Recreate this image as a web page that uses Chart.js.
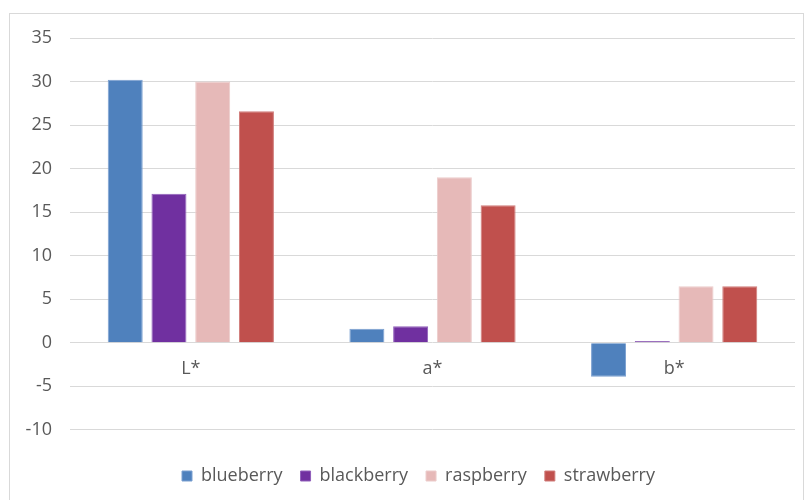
<!DOCTYPE html>
<html>
<head>
<meta charset="utf-8">
<script src="https://cdn.jsdelivr.net/npm/chart.js@4"></script>
<style>
    html, body { margin: 0; padding: 0; background: #ffffff; }
    #wrap { position: relative; width: 808px; height: 500px; overflow: hidden; }
    #frame {
        position: absolute; left: 9px; top: 13px; width: 795px; height: 500px;
        border: 1px solid #d9d9d9; box-sizing: border-box;
    }
    canvas { position: absolute; left: 0; top: 0; }
</style>
</head>
<body>
<div id="wrap">
    <div id="frame"></div>
    <canvas id="bar-chart" width="808" height="500"></canvas>
</div>
<script>
const categories = ["L*", "a*", "b*"];
const blueberry = [30.2, 1.6, -3.9];
const blackberry = [17.1, 1.9, 0.2];
const raspberry = [30.0, 19.0, 6.5];
const strawberry = [26.6, 15.8, 6.5];
const yTicks = [-10, -5, 0, 5, 10, 15, 20, 25, 30, 35];

const textColor = "#595959";
const gridColor = "#d9d9d9";
const fontFamily = "'Open Sans', Lato, sans-serif";

function series(label, data, fill, border) {
    return {
        label: label,
        data: data,
        backgroundColor: fill,
        borderColor: border,
        borderWidth: 1,
        categoryPercentage: 0.724,
        barPercentage: 0.8,
    };
}

// nudge the legend a little to the right of the canvas centre
const legendOffset = {
    id: "legendOffset",
    afterLayout: (chart) => {
        chart.legend.left += 21;
        chart.legend.right += 21;
    },
};

const ctx = document.querySelector("#bar-chart").getContext("2d");
const objBarChart = new Chart(ctx, {
    type: "bar",
    data: {
        labels: categories,
        datasets: [
            series("blueberry", blueberry, "#4f81bd", "#7a9fd0"),
            series("blackberry", blackberry, "#7030a0", "#9160bb"),
            series("raspberry", raspberry, "#e6b9b8", "#eccccb"),
            series("strawberry", strawberry, "#c0504d", "#d07c7a"),
        ],
    },
    plugins: [legendOffset],
    options: {
        responsive: false,
        animation: false,
        layout: {
            padding: { left: 0, right: 13, top: 38, bottom: 5 },
        },
        scales: {
            x: {
                // category labels sit just under the zero line
                position: { y: 0 },
                grid: { display: false, drawTicks: false },
                border: { display: false },
                ticks: {
                    color: textColor,
                    padding: 15,
                    font: { family: fontFamily, size: 18 },
                },
            },
            y: {
                min: yTicks[0],
                max: yTicks[yTicks.length - 1],
                afterBuildTicks: (scale) => {
                    scale.ticks = yTicks.map((v) => ({ value: v }));
                },
                afterFit: (scale) => {
                    scale.width = 70;
                },
                grid: { color: gridColor, lineWidth: 1, drawTicks: false },
                border: { display: false },
                ticks: {
                    color: textColor,
                    padding: 18,
                    font: { family: fontFamily, size: 18 },
                },
            },
        },
        plugins: {
            tooltip: { enabled: false },
            legend: {
                position: "bottom",
                // empty title only reserves space between plot and legend
                title: {
                    display: true,
                    text: "",
                    padding: 0,
                    font: { size: 16, lineHeight: 1.2 },
                },
                labels: {
                    color: textColor,
                    boxWidth: 10,
                    boxHeight: 10,
                    padding: 18,
                    font: { family: fontFamily, size: 18 },
                },
            },
        },
    },
});
</script>
</body>
</html>
